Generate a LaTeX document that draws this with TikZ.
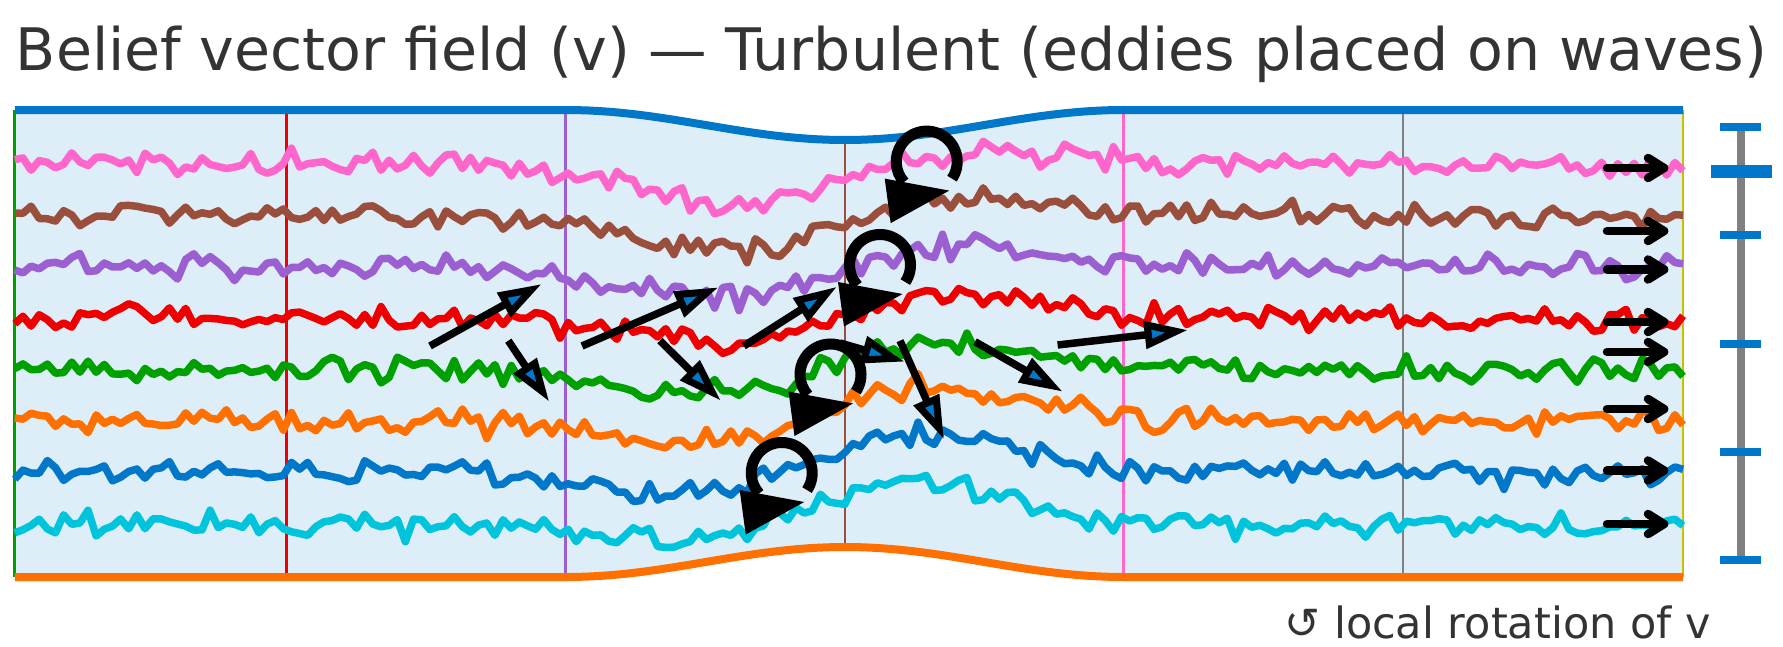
\documentclass[tikz,border=0pt]{standalone}
\usepackage{fontspec}
\setmainfont{DejaVu Sans}
\usetikzlibrary{calc}
\definecolor{cpink}{HTML}{FF66CC}
\definecolor{cbrown}{HTML}{9A4E3C}
\definecolor{cpurple}{HTML}{9C5FD1}
\definecolor{cred}{HTML}{EE0000}
\definecolor{cgreen}{HTML}{00A000}
\definecolor{corange}{HTML}{FF7000}
\definecolor{cblue}{HTML}{0077C8}
\definecolor{ccyan}{HTML}{00C4DC}
\definecolor{cgray}{HTML}{808080}
\definecolor{colive}{HTML}{C8C000}
\definecolor{cbg}{HTML}{DDEEF8}
\definecolor{ctext}{HTML}{333333}
\begin{document}
\begin{tikzpicture}[x=1pt,y=-1pt,
  declare function={
    bmp(\t)=(abs(\t-845)<279) ? (0.5+0.5*cos(180*((\t-845)/279))) : 0;
    wv(\t)=-42*((\t-825)/118)*exp(-min(0.5*((\t-825)/118)*((\t-825)/118),9));
  },
  wave/.style={line width=7.5pt, line join=round},
  vline/.style={line width=2.8pt},
  bound/.style={line width=8pt},
  qshaft/.style={line width=7.5pt, draw=black},
  qhead/.style={line width=7pt, draw=black, fill=cblue, line join=miter},
  eddyring/.style={line width=11pt, draw=black},
  rarr/.style={line width=8.5pt, draw=black, line cap=round, line join=round},
  bluetick/.style={fill=cblue},
]
\useasboundingbox (0,0) rectangle (1783,646);
\fill[white] (0,0) rectangle (1783,646);

% channel fill
\fill[cbg] plot[domain=14.8:1683, samples=161] (\x,{110+30*bmp(\x)})
  -- plot[domain=1683:14.8, samples=161] (\x,{577-30*bmp(\x)}) -- cycle;

% vertical lines
\foreach \vc/\vx in {cgreen/14.8, cred/286.3, cpurple/565.2, cpink/1123.5, cgray/1403, colive/1683}{
  \draw[vline, draw=\vc] (\vx,110) -- (\vx,577);
}
\draw[vline, draw=cbrown] (845,140) -- (845,547);

% waves
\foreach \wc/\wb/\ws in {cpink/163.5/101, cbrown/215.1/202, cpurple/266.7/303, cred/318.3/404, cgreen/369.9/505, corange/421.5/606, cblue/473.1/707, ccyan/524.7/808}{
  \pgfmathsetseed{\ws}
  \draw[wave, draw=\wc] plot[domain=14.8:1683, samples=206]
    (\x,{\wb+(343.5-\wb)*0.128*bmp(\x)+wv(\x)+6*(rand+rand+rand)});
}

% boundaries
\draw[bound, draw=cblue] plot[domain=14.8:1683, samples=161] (\x,{110+30*bmp(\x)});
\draw[bound, draw=corange] plot[domain=14.8:1683, samples=161] (\x,{577-30*bmp(\x)});

% quiver arrows
\foreach \i/\sx/\sy/\tx/\ty in {1/430/346/541.7/284, 2/508.3/340.7/549.3/401.7, 3/582/346/718.5/287.3, 4/660/340.7/720.8/400.7, 5/743.8/346/837/286.7, 6/840/343/905/361.7, 7/900/340.7/944/439.3, 8/975/341.7/1062.7/391.7, 9/1057.6/345/1188/330}{
  \coordinate (q\i-s) at (\sx,\sy);
  \coordinate (q\i-t) at (\tx,\ty);
  \coordinate (q\i-b) at ($(q\i-t)!40pt!(q\i-s)$);
  \coordinate (q\i-p) at ($(q\i-t)!12pt!(q\i-s)$);
  \coordinate (q\i-m) at ($(q\i-t)!30pt!(q\i-s)$);
  \draw[qshaft] (q\i-s) -- (q\i-m);
  \filldraw[qhead] (q\i-p) -- ($(q\i-b)!9.5pt!90:(q\i-t)$) -- ($(q\i-b)!9.5pt!-90:(q\i-t)$) -- cycle;
}

% eddies
\foreach \n/\cx/\cy in {1/926.7/161.6, 2/880/265, 3/830.5/374.5, 4/781.7/473}{
  \coordinate (e\n) at (\cx,\cy);
  \begin{scope}[shift={(e\n)}, yscale=-1]
    \draw[eddyring] (-34:30.5) arc[start angle=-34, end angle=222, radius=30.5];
    \fill[black] (-42,-17) -- (22.5,-29) -- (-36,-61.5) -- cycle;
  \end{scope}
}

% right-edge arrows
\foreach \ry [count=\k] in {168,231,269.5,322,352,409,470.5,524}{
  \coordinate (r\k-s) at (1607,\ry);
  \coordinate (r\k-t) at (1664,\ry);
  \draw[rarr] (r\k-s) -- (r\k-t);
  \draw[rarr] ($(r\k-t)+(-16,-10)$) -- (r\k-t) -- ($(r\k-t)+(-16,10)$);
}

% right scale bar
\draw[line width=8pt, draw=cgray] (1741,127) -- (1741,560);
\foreach \ty in {127,235,344,452,560}{
  \fill[bluetick] (1720,\ty-4.3) rectangle (1761,\ty+4.3);
}
\fill[bluetick] (1710.7,165) rectangle (1771.7,177.7);

% texts
\node[anchor=base, text=ctext, font=\fontsize{58.6}{60}\selectfont, inner sep=0pt] (title) at (891.5,70) {Belief vector field (v) — Turbulent (eddies placed on waves)};
\node[anchor=base east, text=ctext, font=\fontsize{43}{48}\selectfont, inner sep=0pt] (note) at (1711,638) {↺ local rotation of v};
\end{tikzpicture}
\end{document}
